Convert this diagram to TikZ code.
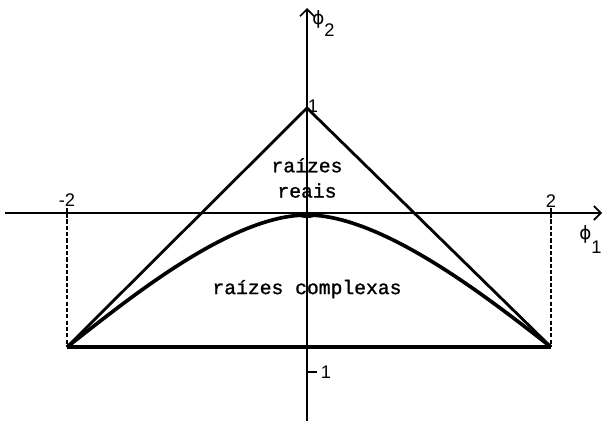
\documentclass[tikz,border=0pt]{standalone}
\usepackage{fontspec}
\setmainfont{Liberation Sans}
\newfontfamily\typewriter[FakeBold=1.2]{Liberation Mono}
\newfontfamily\greekfont{DejaVu Sans}
\usetikzlibrary{arrows.meta}

\begin{document}
\begin{tikzpicture}[x=0.025cm, y=-0.025cm,
    axislabel/.style={inner sep=0pt, font=\fontsize{13}{15}\selectfont},
    regionlabel/.style={inner sep=0pt, align=center, font=\fontsize{14}{18}\typewriter}]
  \useasboundingbox (0,0) rectangle (603,421);

  % Key points of the triangle and the curve
  \coordinate (apex)  at (307,108);
  \coordinate (left)  at (67,347);
  \coordinate (right) at (551,347);
  \coordinate (top)   at (307,215);

  % Axes
  \draw[line width=1.2pt, -{Straight Barb[length=5pt]}] (5,213) -- (602,213);
  \draw[line width=1.2pt, -{Straight Barb[length=5pt]}] (307,421) -- (307,8);

  % Ticks
  \draw[line width=1.2pt] (67,208) -- (67,218);
  \draw[line width=1.2pt] (551,208) -- (551,218);
  \draw[line width=1.2pt] (307,372) -- (317,372);

  % Dashed verticals at -2 and 2
  \draw[line width=1.3pt, dash pattern=on 3pt off 1.5pt] (67,213) -- (left);
  \draw[line width=1.3pt, dash pattern=on 3pt off 1.5pt] (551,213) -- (right);

  % Triangle
  \draw[line width=2pt] (left) -- (apex) -- (right);
  \draw[line width=2.4pt] (left) -- (right);

  % Boundary between real and complex roots
  \draw[line width=2.6pt]
       (left) .. controls (125,302) and (230,215) .. (top)
              .. controls (384,215) and (493,302) .. (right);
  \fill (307,215) ellipse (9 and 3);

  % Axis labels
  \node[axislabel, anchor=base west] (phitwo) at (312,24) {{\greekfont ϕ}\raisebox{-9pt}{2}};
  \node[axislabel, anchor=base west] (phione) at (579,239) {{\greekfont ϕ}\raisebox{-10pt}{1}};
  \node[axislabel] (mtwo)  at (67,200)  {-2};
  \node[axislabel] (ptwo)  at (551,201) {2};
  \node[axislabel] (pone)  at (313,106) {1};
  \node[axislabel] (mone)  at (326,372) {1};

  % Regions
  \node[regionlabel] (reais) at (307,178) {raízes\\reais};
  \node[regionlabel] (complexas) at (307,289) {raízes complexas};
\end{tikzpicture}
\end{document}
